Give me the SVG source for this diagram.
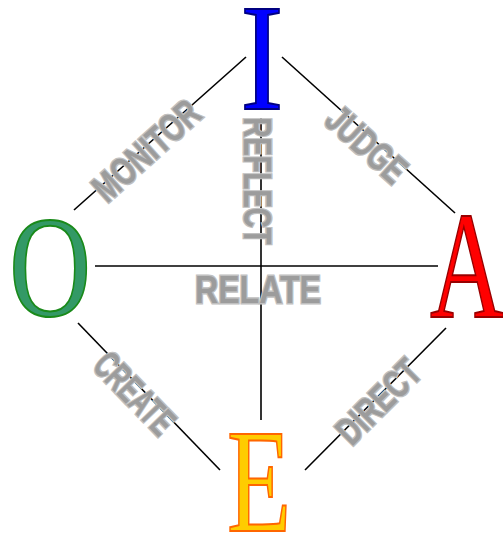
<svg xmlns="http://www.w3.org/2000/svg" width="503" height="539" viewBox="0 0 503 539">
<style>
.ln{stroke:#000;stroke-width:1.6;fill:none}
.big{font-family:"Liberation Serif","Times New Roman",serif;text-anchor:middle;stroke-width:2}
.lbl{font-family:"Liberation Sans",Arial,sans-serif;font-weight:bold;font-size:39px;text-anchor:middle;fill:#9c9c9c;stroke:#c0c0c0;stroke-width:3;paint-order:stroke}
</style>
<rect width="503" height="539" fill="#fff"/>
<g id="connectors">
<line class="ln" x1="74" y1="210" x2="246" y2="57"/>
<line class="ln" x1="282" y1="57" x2="455" y2="213"/>
<line class="ln" x1="78" y1="323" x2="220" y2="470"/>
<line class="ln" x1="305" y1="470" x2="446" y2="328"/>
<line class="ln" x1="95" y1="266" x2="438" y2="266"/>
<line class="ln" x1="261" y1="118" x2="261" y2="420"/>
</g>
<g id="labels">
<text class="lbl" transform="translate(146,150) rotate(-42)" y="14" textLength="130" lengthAdjust="spacingAndGlyphs">MONITOR</text>
<text class="lbl" transform="translate(367,144) rotate(42)" y="14" textLength="94" lengthAdjust="spacingAndGlyphs">JUDGE</text>
<text class="lbl" transform="translate(135,393) rotate(46)" y="14" textLength="98" lengthAdjust="spacingAndGlyphs">CREATE</text>
<text class="lbl" transform="translate(378,401) rotate(-45)" y="14" textLength="102" lengthAdjust="spacingAndGlyphs">DIRECT</text>
<text class="lbl" transform="translate(258,181) rotate(90)" y="14" textLength="127" lengthAdjust="spacingAndGlyphs">REFLECT</text>
<text class="lbl" x="258" y="303" textLength="126" lengthAdjust="spacingAndGlyphs">RELATE</text>
</g>
<g id="node-I">
<text class="big" transform="translate(262,109) scale(0.85,1)" font-size="153" fill="#0000ff" stroke="#000080">I</text>
</g>
<g id="node-O">
<text class="big" transform="translate(50,316) scale(0.78,1)" font-size="145" fill="#339966" stroke="#1a8a1a">O</text>
</g>
<g id="node-A">
<text class="big" transform="translate(467,317) scale(0.67,1)" font-size="153" fill="#ff0000" stroke="#990000">A</text>
</g>
<g id="node-E">
<text class="big" transform="translate(259,531) scale(0.71,1)" font-size="148" fill="#ffcc00" stroke="#ff6600">E</text>
</g>
</svg>
